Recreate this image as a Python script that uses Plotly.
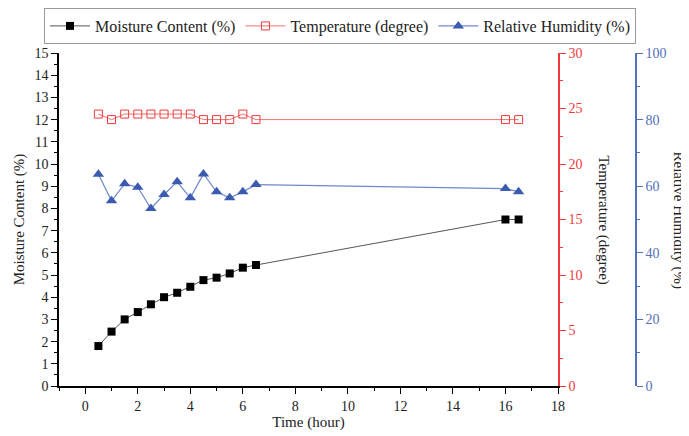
import plotly.graph_objects as go

time_h = [0.5, 1, 1.5, 2, 2.5, 3, 3.5, 4, 4.5, 5, 5.5, 6, 6.5, 16, 16.5]
moisture = [1.8, 2.45, 3.0, 3.33, 3.68, 4.0, 4.2, 4.47, 4.77, 4.88, 5.07, 5.33, 5.45, 7.5, 7.5]
temperature = [24.5, 24.0, 24.5, 24.5, 24.5, 24.5, 24.5, 24.5, 24.0, 24.0, 24.0, 24.5, 24.0, 24.0, 24.0]
humidity = [63.6, 55.6, 60.7, 59.7, 53.3, 57.5, 61.3, 56.5, 63.7, 58.3, 56.5, 58.3, 60.5, 59.3, 58.3]

FONT = "Liberation Serif"
RED = "#f03a3a"
BLUE = "#3b5bb0"
BLUE_AX = "#5470b8"

# page body offset is ~8px; figure is sized to the visible area
W, H = 681, 428
L, R, T, B = 51, 5, 45, 50
PW = W - L - R

fig = go.Figure()
fig.add_trace(go.Scatter(
    x=time_h, y=moisture, name="Moisture Content (%)", mode="lines+markers",
    line=dict(color="#555555", width=1),
    marker=dict(symbol="square", size=8, color="black"),
    xaxis="x", yaxis="y"))
fig.add_trace(go.Scatter(
    x=time_h, y=temperature, name="Temperature (degree)", mode="lines+markers",
    line=dict(color="#f07070", width=1),
    marker=dict(symbol="square-open", size=8, color=RED, line=dict(width=1)),
    xaxis="x", yaxis="y2"))
fig.add_trace(go.Scatter(
    x=time_h, y=humidity, name="Relative Humidity (%)", mode="lines+markers",
    line=dict(color="#6f88cc", width=1.2),
    marker=dict(symbol="triangle-up", size=10, color=BLUE),
    xaxis="x", yaxis="y3"))

dom_right = (550 - L) / PW

fig.update_layout(
    width=W, height=H,
    margin=dict(l=L, r=R, t=T, b=B, autoexpand=False),
    plot_bgcolor="white", paper_bgcolor="white",
    font=dict(family=FONT, size=14, color="#222"),
    showlegend=True,
    legend=dict(orientation="h", xref="container", yref="container",
                x=332 / W, xanchor="center", y=1.0, yanchor="top",
                bordercolor="#999", borderwidth=1, font=dict(size=16, family=FONT),
                itemwidth=40, tracegroupgap=0),
    xaxis=dict(domain=[0, dom_right], range=[-1, 18], tickmode="linear", tick0=0, dtick=2,
               showgrid=False, zeroline=False, showline=True, linecolor="black", linewidth=1.5,
               ticks="outside", ticklen=6, tickcolor="black",
               minor=dict(dtick=1, tick0=0, ticks="outside", ticklen=3, tickcolor="black"),
               title=dict(text="Time (hour)", font=dict(size=15), standoff=2),
               tickfont=dict(size=14)),
    yaxis=dict(range=[0, 15], tickmode="linear", tick0=0, dtick=1,
               showgrid=False, zeroline=False, showline=True, linecolor="black", linewidth=1.5,
               ticks="outside", ticklen=6, tickcolor="black",
               minor=dict(dtick=0.5, ticks="outside", ticklen=3, tickcolor="black"),
               title=dict(text="Moisture Content (%)", font=dict(size=15), standoff=6),
               tickfont=dict(size=14)),
    yaxis2=dict(range=[0, 30], overlaying="y", side="right", anchor="x",
                tickmode="linear", tick0=0, dtick=5,
                showgrid=False, zeroline=False, showline=True, linecolor=RED, linewidth=1.5,
                ticks="outside", ticklen=6, tickcolor=RED,
                minor=dict(dtick=2.5, ticks="outside", ticklen=3, tickcolor=RED),
                tickfont=dict(size=14, color=RED)),
    yaxis3=dict(range=[0, 100], overlaying="y", side="right", anchor="free",
                position=(628 - L) / PW,
                tickmode="linear", tick0=0, dtick=20,
                showgrid=False, zeroline=False, showline=True, linecolor=BLUE_AX, linewidth=1.5,
                ticks="outside", ticklen=6, tickcolor=BLUE_AX,
                minor=dict(dtick=10, ticks="outside", ticklen=3, tickcolor=BLUE_AX),
                tickfont=dict(size=14, color=BLUE_AX)),
    annotations=[
        dict(text="Temperature (degree)", xref="paper", yref="paper",
             x=(595 - L) / PW, y=0.5, showarrow=False, textangle=90,
             font=dict(size=15, family=FONT, color="#222"), xanchor="center", yanchor="middle"),
        dict(text="Relative Humidity (%)", xref="paper", yref="paper",
             x=(670 - L) / PW, y=0.5, showarrow=False, textangle=90,
             font=dict(size=15, family=FONT, color="#222"), xanchor="center", yanchor="middle"),
    ],
)

fig.write_html("out.html")
